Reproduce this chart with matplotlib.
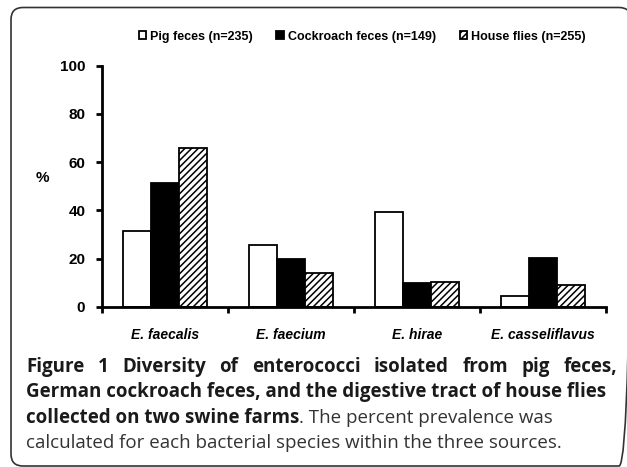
import matplotlib

matplotlib.use("Agg")

import matplotlib.pyplot as plt
import numpy as np
from matplotlib.patches import FancyBboxPatch

# values (percent of isolates per source)
species = ["E. faecalis", "E. faecium", "E. hirae", "E. casseliflavus"]
sources = ["Pig feces (n=235)", "Cockroach feces (n=149)", "House flies (n=255)"]
pig_feces = [31.4, 25.6, 39.2, 4.4]
cockroach_feces = [51.4, 19.8, 9.7, 20.3]
house_flies = [65.7, 14.1, 10.4, 9.0]
y_ticks = [0, 20, 40, 60, 80, 100]

caption_lines = [
    [("Figure 1 Diversity of enterococci isolated from pig feces,", "bold")],
    [("German cockroach feces, and the digestive tract of house flies", "bold")],
    [("collected on two swine farms", "bold"), (". The percent prevalence was", "normal")],
    [("calculated for each bacterial species within the three sources.", "normal")],
]

W, H, DPI = 627, 467, 100
plt.rcParams["hatch.linewidth"] = 1.1

fig = plt.figure(figsize=(W / DPI, H / DPI), dpi=DPI)
fig.patch.set_facecolor("white")

# main axes, placed in pixel terms
x0, x1, y_top, y_bot = 102, 606, 65.7, 306.7
ax = fig.add_axes([x0 / W, 1 - y_bot / H, (x1 - x0) / W, (y_bot - y_top) / H])

width = 0.22
centers = np.arange(len(species)) + 0.5
styles = [
    dict(facecolor="white", hatch=None),
    dict(facecolor="black", hatch=None),
    dict(facecolor="white", hatch="/////"),
]
series = [pig_feces, cockroach_feces, house_flies]
handles = []
for k, (vals, st) in enumerate(zip(series, styles)):
    b = ax.bar(centers + (k - 1) * width, vals, width, edgecolor="black",
               linewidth=1.3, label=sources[k], **st)
    handles.append(b)

ax.set_xlim(0, len(species))
ax.set_ylim(0, 100)
for s in ("top", "right"):
    ax.spines[s].set_visible(False)
for s in ("left", "bottom"):
    ax.spines[s].set_linewidth(2)

ax.set_yticks(y_ticks)
ax.set_yticklabels([str(v) for v in y_ticks], fontsize=11, fontweight="bold",
                   family="Liberation Sans")
ax.tick_params(axis="y", direction="out", length=4, width=2, pad=8)

ax.set_xticks(np.arange(len(species) + 1))
ax.set_xticklabels([])
ax.tick_params(axis="x", which="major", direction="out", length=4, width=2)
ax.set_xticks(centers, minor=True)
ax.set_xticklabels(species, minor=True, fontsize=10, fontweight="bold",
                   fontstyle="italic", family="Liberation Sans")
ax.tick_params(axis="x", which="minor", length=0, pad=15)

fig.text(42 / W, 1 - 178 / H, "%", fontsize=11, fontweight="bold",
         family="Liberation Sans", ha="center", va="center")

fig.legend(handles=handles, loc="center", bbox_to_anchor=(362 / W, 1 - 36.7 / H),
           ncol=3, frameon=False, handlelength=0.6, handleheight=0.6,
           handletextpad=0.3, columnspacing=1.9,
           prop=dict(family="Liberation Sans", weight="bold", size=9))

# overlay in pixel coordinates for frame and caption
ov = fig.add_axes([0, 0, 1, 1], zorder=-1)
ov.set_xlim(0, W)
ov.set_ylim(H, 0)
ov.axis("off")
ov.patch.set_alpha(0)
# the panel border runs off the right and bottom edges of the image
frame = FancyBboxPatch((11, 7.5), 620, 458.5, boxstyle="round,pad=0,rounding_size=12",
                       facecolor="none", edgecolor="#333333", linewidth=1.2)
ov.add_patch(frame)

renderer = fig.canvas.get_renderer()
cap_font = "Open Sans"

# size the caption so the second (unjustified) line spans its measured width
probe = ov.text(0, 0, caption_lines[1][0][0], fontsize=12, fontweight="bold", family=cap_font)
cap_size = 12 * 580 / probe.get_window_extent(renderer).width
probe.remove()

baselines = [372, 397.5, 423, 447.5]
left = 26

# first line is justified out to the right edge
words = caption_lines[0][0][0].split(" ")
texts = []
total = 0
for w in words:
    t = ov.text(0, baselines[0], w, fontsize=cap_size, fontweight="bold",
                family=cap_font, va="baseline", ha="left", color="#1a1a1a")
    total += t.get_window_extent(renderer).width
    texts.append(t)
gap = (617 - left - total) / (len(words) - 1)
xpos = left
for t in texts:
    t.set_x(xpos)
    xpos += t.get_window_extent(renderer).width + gap

for line, yb in zip(caption_lines[1:], baselines[1:]):
    xpos = left
    for seg, weight in line:
        t = ov.text(xpos, yb, seg, fontsize=cap_size, fontweight=weight,
                    family=cap_font, va="baseline", ha="left",
                    color="#1a1a1a" if weight == "bold" else "#333333")
        xpos += t.get_window_extent(renderer).width

fig.savefig("out.png", dpi=DPI, facecolor="white")
